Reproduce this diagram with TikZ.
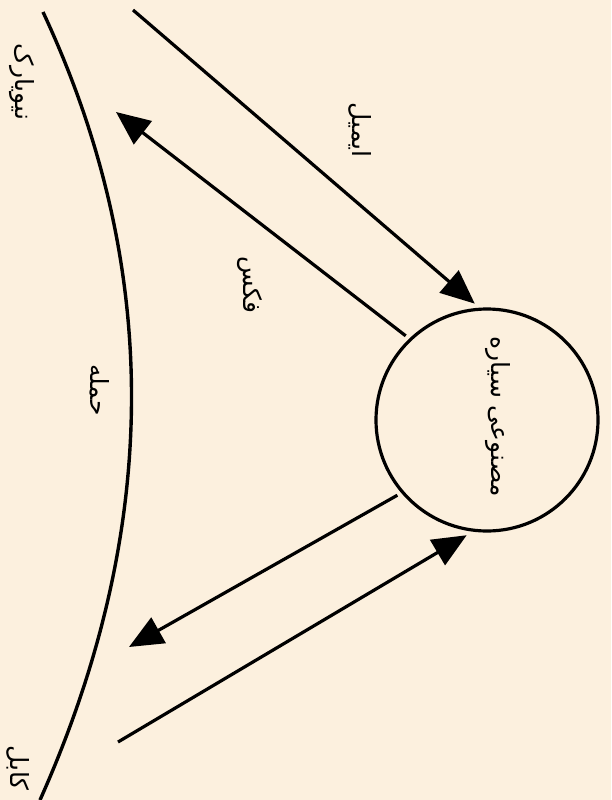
\documentclass[tikz,border=0pt]{standalone}
\usepackage{fontspec}
\usepackage{tikz}
\usetikzlibrary{arrows.meta}
\TeXXeTstate=1
\newfontfamily\urdufont[Script=Arabic]{DejaVu Sans}
\newcommand{\urtxt}[1]{{\urdufont\beginR #1\endR}}
\definecolor{paper}{HTML}{FCF0DE}

\begin{document}
\begin{tikzpicture}[x=1pt, y=-1pt,
    link/.style={line width=3.2pt, -{Triangle[length=34pt, width=29pt]}},
    urlbl/.style={rotate=-90, inner sep=0pt, font=\fontsize{25}{28}\selectfont},
    satcircle/.style={circle, draw, line width=3.2pt, minimum size=222pt, outer sep=6pt}]
  % Sfondo e riquadro
  \fill[paper] (0,0) rectangle (611,800);
  \useasboundingbox (0,0) rectangle (611,800);

  % Estremi liberi
  \coordinate (arcN) at (43,12);
  \coordinate (arcS) at (40,800);
  \coordinate (nyA) at (133,10);
  \coordinate (nyB) at (116,112);
  \coordinate (kbA) at (129,647);
  \coordinate (kbB) at (118,742);

  % Superficie terrestre
  \draw[line width=3.4pt] (arcN) .. controls (162,267) and (161,529) .. (arcS);

  % Satellite
  \node[satcircle] (sat) at (487,420) {};
  \node[urlbl] (satlbl) at (498,417) {\urtxt{مصنوعی سیاره}};

  % Collegamenti
  \draw[link] (nyA) -- (sat.96.7);
  \draw[link] (sat.134.7) -- (nyB);
  \draw[link] (sat.220.9) -- (kbA);
  \draw[link] (kbB) -- (sat.260.4);

  % Etichette
  \node[urlbl] (ny) at (22,82) {\urtxt{نیویارک}};
  \node[urlbl] (email) at (360,130) {\urtxt{ایمیل}};
  \node[urlbl] (fax) at (250,285) {\urtxt{فکس}};
  \node[urlbl] (hamla) at (100,390) {\urtxt{حمله}};
  \node[urlbl] (kabul) at (18,768) {\urtxt{کابل}};
\end{tikzpicture}
\end{document}
